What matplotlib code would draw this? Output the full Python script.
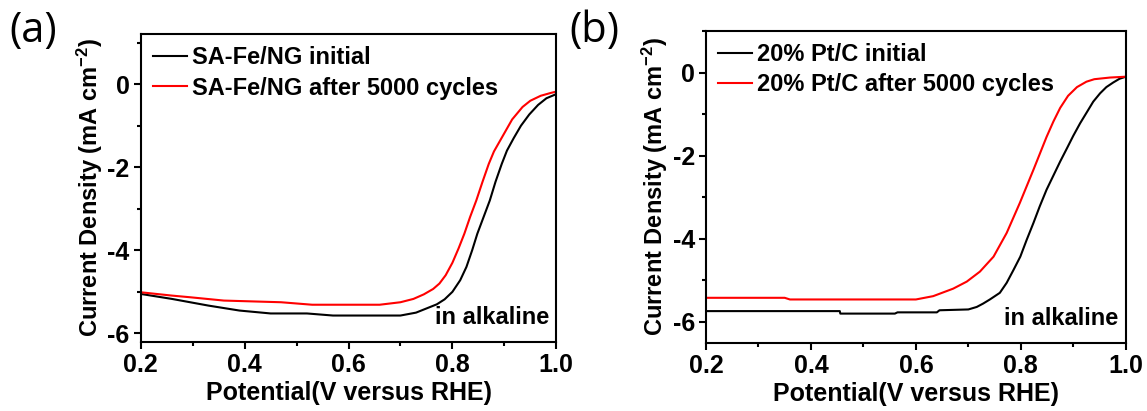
import matplotlib
matplotlib.use("Agg")
import matplotlib.pyplot as plt
from matplotlib.ticker import MultipleLocator

plt.rcParams["font.family"] = ["Liberation Sans", "DejaVu Sans"]
plt.rcParams["font.weight"] = "bold"
plt.rcParams["mathtext.fontset"] = "custom"
plt.rcParams["mathtext.rm"] = "Liberation Sans:bold"
plt.rcParams["mathtext.bf"] = "Liberation Sans:bold"
plt.rcParams["mathtext.default"] = "bf"

# (a) SA-Fe/NG polarisation curves
fe_init_v = [0.20, 0.26, 0.33, 0.39, 0.45, 0.52, 0.57, 0.70, 0.73, 0.75, 0.77, 0.785,
             0.80, 0.815, 0.827, 0.838, 0.848, 0.86, 0.872, 0.883, 0.895, 0.905, 0.918,
             0.932, 0.948, 0.965, 0.981, 1.0]
fe_init_j = [-5.05, -5.17, -5.33, -5.45, -5.52, -5.52, -5.57, -5.57, -5.50, -5.40, -5.30, -5.18,
             -5.00, -4.72, -4.40, -4.00, -3.60, -3.20, -2.80, -2.35, -1.92, -1.60, -1.30,
             -1.00, -0.73, -0.50, -0.34, -0.24]
fe_cyc_v = [0.20, 0.26, 0.295, 0.36, 0.47, 0.53, 0.66, 0.70, 0.725, 0.745, 0.763, 0.775,
            0.787, 0.80, 0.812, 0.823, 0.834, 0.846, 0.858, 0.870, 0.880, 0.890, 0.90,
            0.915, 0.935, 0.95, 0.97, 0.99, 1.0]
fe_cyc_j = [-5.01, -5.09, -5.13, -5.21, -5.25, -5.31, -5.31, -5.25, -5.17, -5.06, -4.93, -4.80,
            -4.60, -4.30, -3.95, -3.60, -3.20, -2.80, -2.35, -1.92, -1.62, -1.40, -1.18,
            -0.85, -0.55, -0.40, -0.28, -0.21, -0.18]

# (b) 20% Pt/C polarisation curves
pt_init_v = [0.20, 0.455, 0.456, 0.56, 0.565, 0.64, 0.645, 0.70, 0.716, 0.728, 0.741, 0.76,
             0.773, 0.786, 0.799, 0.811, 0.824, 0.836, 0.849, 0.862, 0.875, 0.888, 0.90,
             0.913, 0.926, 0.938, 0.951, 0.963, 0.976, 0.988, 1.0]
pt_init_j = [-5.74, -5.74, -5.80, -5.80, -5.77, -5.77, -5.72, -5.70, -5.64, -5.56, -5.46, -5.30,
             -5.06, -4.75, -4.43, -4.03, -3.62, -3.22, -2.82, -2.48, -2.14, -1.82, -1.52,
             -1.22, -0.95, -0.70, -0.50, -0.35, -0.24, -0.15, -0.10]
pt_cyc_v = [0.20, 0.35, 0.36, 0.60, 0.633, 0.671, 0.697, 0.722, 0.748, 0.773, 0.798, 0.824,
            0.849, 0.862, 0.875, 0.89, 0.907, 0.925, 0.94, 0.97, 1.0]
pt_cyc_j = [-5.42, -5.42, -5.46, -5.46, -5.38, -5.20, -5.03, -4.79, -4.43, -3.86, -3.14, -2.34,
            -1.55, -1.18, -0.85, -0.56, -0.35, -0.22, -0.16, -0.12, -0.10]

panels = [
    dict(tag="(a)", tag_x=0.008, rect=[0.1227, 0.1686, 0.3623, 0.748], ylim=(-6.2, 1.2),
         curves=[(fe_init_v, fe_init_j, "black", "SA-Fe/NG initial"),
                 (fe_cyc_v, fe_cyc_j, "red", "SA-Fe/NG after 5000 cycles")]),
    dict(tag="(b)", tag_x=0.496, rect=[0.6155, 0.1662, 0.366, 0.7584], ylim=(-6.5, 1.0),
         curves=[(pt_init_v, pt_init_j, "black", "20% Pt/C initial"),
                 (pt_cyc_v, pt_cyc_j, "red", "20% Pt/C after 5000 cycles")]),
]

fig = plt.figure(figsize=(11.47, 4.11), dpi=100)
for p in panels:
    ax = fig.add_axes(p["rect"])
    for v, j, c, lab in p["curves"]:
        ax.plot(v, j, color=c, lw=1.5, label=lab)
    ax.set_xlim(0.2, 1.0)
    ax.set_ylim(*p["ylim"])
    ax.xaxis.set_major_locator(MultipleLocator(0.2))
    ax.xaxis.set_minor_locator(MultipleLocator(0.1))
    ax.yaxis.set_major_locator(MultipleLocator(2))
    ax.yaxis.set_minor_locator(MultipleLocator(1))
    ax.xaxis.set_major_formatter(lambda x, pos: f"{x:.1f}")
    ax.yaxis.set_major_formatter(lambda y, pos: f"{y:.0f}")
    ax.tick_params(which="major", direction="out", length=5, width=1.5, labelsize=18, pad=3)
    ax.tick_params(which="minor", direction="out", length=3, width=1.5)
    for s in ax.spines.values():
        s.set_linewidth(1.5)
    ax.set_xlabel("Potential(V versus RHE)", fontsize=18, fontweight="bold", labelpad=3)
    ax.set_ylabel(r"Current Density (mA cm$^{-2}$)", fontsize=17, fontweight="bold", labelpad=2)
    ax.legend(loc="upper left", frameon=False, handlelength=1.45,
              handletextpad=0.2, labelspacing=0.32, borderaxespad=0.15, borderpad=0.35,
              prop=dict(size=17, weight="bold"))
    ax.text(0.983, 0.04, "in alkaline", transform=ax.transAxes, ha="right", va="bottom",
            fontsize=17, fontweight="bold")
    fig.text(p["tag_x"], 0.975, p["tag"], fontsize=30, fontweight="normal", va="top",
             family=["Open Sans", "DejaVu Sans"])

fig.savefig("out.png", dpi=100)
